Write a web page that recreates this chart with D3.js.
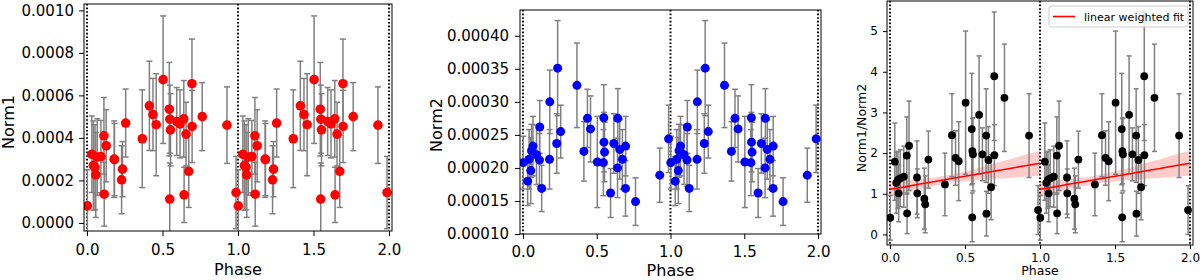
<!doctype html>
<html>
<head>
<meta charset="UTF-8">
<title>Norm1 / Norm2 vs phase</title>
<script src="https://cdn.jsdelivr.net/npm/d3@7"></script>
<style>
  body { margin: 0; background: #fff; }
  svg { font-family: "DejaVu Sans", sans-serif; }
  .tick line { stroke: #000; }
  .tick text { fill: #000; }
</style>
</head>
<body>
<svg id="chart" width="1200" height="280"></svg>
<script>
// phase of each observation (plotted twice: phase and phase + 1)
const phase = [0.002, 0.032, 0.042, 0.053, 0.058, 0.068, 0.092, 0.112, 0.114, 0.127,
  0.180, 0.182, 0.229, 0.235, 0.256, 0.366, 0.413, 0.437, 0.458, 0.504,
  0.545, 0.549, 0.553, 0.548, 0.594, 0.616, 0.641, 0.643, 0.656, 0.674,
  0.695, 0.696, 0.763, 0.927, 0.987];

const norm1 = [0.000080, 0.000323, 0.000270, 0.000262, 0.000226, 0.000310, 0.000312, 0.000410, 0.000135, 0.000363,
  0.000300, 0.000298, 0.000203, 0.000253, 0.000470, 0.000396, 0.000551, 0.000510, 0.000462, 0.000674,
  0.000535, 0.000488, 0.000438, 0.000112, 0.000477, 0.000466, 0.000490, 0.000132, 0.000418, 0.000243,
  0.000655, 0.000454, 0.000500, 0.000460, 0.000143];
const norm1Err = [0.00017, 0.00018, 0.00021, 0.00020, 0.00020, 0.00018, 0.00017, 0.00018, 0.00015, 0.00017,
  0.00018, 0.00017, 0.00016, 0.00013, 0.00016, 0.00023, 0.00021, 0.00017, 0.00024, 0.00030,
  0.00022, 0.00016, 0.00017, 0.00017, 0.00016, 0.00016, 0.00018, 0.00013, 0.00015, 0.00017,
  0.00021, 0.00017, 0.00016, 0.00018, 0.00017];

const norm2 = [0.000208, 0.000180, 0.000213, 0.000196, 0.000226, 0.000233, 0.000220, 0.000212, 0.000262, 0.000169,
  0.000213, 0.000300, 0.000237, 0.000351, 0.000255, 0.000325, 0.000225, 0.000275, 0.000259, 0.000209,
  0.000208, 0.000239, 0.000224, 0.000276, 0.000162, 0.000237, 0.000200, 0.000275, 0.000228, 0.000213,
  0.000169, 0.000233, 0.000149, 0.000189, 0.000244];
const norm2Err = [0.000040, 0.000037, 0.000045, 0.000050, 0.000040, 0.000045, 0.000045, 0.000040, 0.000040, 0.000035,
  0.000045, 0.000048, 0.000045, 0.000072, 0.000040, 0.000064, 0.000045, 0.000044, 0.000050, 0.000069,
  0.000050, 0.000045, 0.000045, 0.000050, 0.000037, 0.000045, 0.000045, 0.000045, 0.000045, 0.000045,
  0.000042, 0.000045, 0.000036, 0.000041, 0.000051];

const ratio = [0.41, 1.79, 1.27, 1.34, 1.01, 1.38, 1.42, 1.94, 0.52, 2.18,
  1.40, 1.01, 0.88, 0.74, 1.84, 1.23, 2.44, 1.88, 1.80, 3.24,
  2.59, 2.05, 1.97, 0.42, 2.94, 1.97, 2.43, 0.51, 1.83, 1.16,
  3.89, 1.95, 3.36, 2.43, 0.60];
const ratioErr = [0.55, 0.95, 0.75, 0.70, 0.70, 0.70, 0.75, 0.95, 0.50, 1.10,
  0.90, 0.60, 0.75, 0.70, 0.70, 0.77, 1.02, 0.67, 0.97, 1.76,
  1.37, 0.80, 0.90, 0.60, 1.45, 0.65, 1.15, 0.55, 0.82, 0.80,
  1.58, 0.75, 1.32, 1.03, 0.60];

// weighted linear fit and its confidence band (one phase cycle)
const fitPhase = [0, 0.1, 0.2, 0.3, 0.4, 0.5, 0.6, 0.7, 0.8, 0.9, 1.0];
const fitValue = [1.11, 1.17, 1.24, 1.30, 1.37, 1.43, 1.49, 1.56, 1.62, 1.69, 1.75];
const fitLow = [0.92, 1.02, 1.12, 1.20, 1.27, 1.31, 1.34, 1.37, 1.39, 1.42, 1.44];
const fitHigh = [1.30, 1.32, 1.36, 1.40, 1.47, 1.55, 1.64, 1.75, 1.85, 1.96, 2.06];

const xTicks = [0, 0.5, 1, 1.5, 2];
const foldLines = [0, 1, 2];

const svg = d3.select("#chart");

function drawPanel(o) {
  const g = svg.append("g");
  const x = d3.scaleLinear().domain([-0.02, 2.02]).range([o.left, o.right]);
  const y = d3.scaleLinear().domain(o.yDomain).range([o.bottom, o.top]);

  const clipId = "clip" + o.id;
  svg.append("clipPath").attr("id", clipId)
    .append("rect")
      .attr("x", o.left).attr("y", o.top)
      .attr("width", o.right - o.left).attr("height", o.bottom - o.top);

  const plot = g.append("g").attr("clip-path", `url(#${clipId})`);

  // fold markers
  plot.selectAll("line.fold")
    .data(foldLines)
    .enter().append("line")
      .attr("class", "fold")
      .attr("x1", d => x(d)).attr("x2", d => x(d))
      .attr("y1", o.top).attr("y2", o.bottom)
      .attr("stroke", "#000")
      .attr("stroke-width", 2)
      .attr("stroke-dasharray", "1.6,2");

  if (o.fit) o.fit(plot, x, y);

  const pts = [0, 1].flatMap(k => phase.map((p, i) => ({ x: p + k, v: o.values[i], e: o.errors[i] })));

  const bars = plot.selectAll("g.err").data(pts).enter().append("g").attr("class", "err")
    .attr("stroke", "#808080").attr("stroke-width", 1.5);
  bars.append("line")
    .attr("x1", d => x(d.x)).attr("x2", d => x(d.x))
    .attr("y1", d => y(d.v - d.e)).attr("y2", d => y(d.v + d.e));
  bars.append("line")
    .attr("x1", d => x(d.x) - o.cap).attr("x2", d => x(d.x) + o.cap)
    .attr("y1", d => y(d.v - d.e)).attr("y2", d => y(d.v - d.e));
  bars.append("line")
    .attr("x1", d => x(d.x) - o.cap).attr("x2", d => x(d.x) + o.cap)
    .attr("y1", d => y(d.v + d.e)).attr("y2", d => y(d.v + d.e));

  plot.selectAll("circle")
    .data(pts)
    .enter().append("circle")
      .attr("cx", d => x(d.x))
      .attr("cy", d => y(d.v))
      .attr("r", o.r)
      .attr("fill", o.color);

  if (o.fitLine) o.fitLine(plot, x, y);

  // axes
  const xa = g.append("g")
    .attr("transform", `translate(0,${o.bottom})`)
    .call(d3.axisBottom(x).tickValues(xTicks).tickFormat(d3.format(".1f"))
      .tickSize(o.tickLen).tickPadding(o.xPad));
  const ya = g.append("g")
    .attr("transform", `translate(${o.left},0)`)
    .call(d3.axisLeft(y).tickValues(o.yTicks).tickFormat(o.yFormat)
      .tickSize(o.tickLen).tickPadding(o.yPad));
  [xa, ya].forEach(a => {
    a.select(".domain").remove();
    a.selectAll("text").attr("font-size", o.tickFont).attr("font-family", "DejaVu Sans");
    a.selectAll(".tick line").attr("stroke-width", 1);
  });

  g.append("rect")
    .attr("x", o.left).attr("y", o.top)
    .attr("width", o.right - o.left).attr("height", o.bottom - o.top)
    .attr("fill", "none").attr("stroke", "#000").attr("stroke-width", 1);

  g.append("text")
    .attr("x", (o.left + o.right) / 2)
    .attr("y", o.xLabelY)
    .attr("text-anchor", "middle")
    .attr("font-size", o.labelFont)
    .text("Phase");

  g.append("text")
    .attr("transform", `translate(${o.yLabelX},${o.yLabelMid}) rotate(-90)`)
    .attr("text-anchor", "middle")
    .attr("font-size", o.labelFont)
    .text(o.yLabel);
}

drawPanel({
  id: 1, left: 84, right: 392, top: 4, bottom: 231,
  yDomain: [-0.000038, 0.00103],
  yTicks: [0, 0.0002, 0.0004, 0.0006, 0.0008, 0.0010], yFormat: d3.format(".4f"),
  values: norm1, errors: norm1Err, color: "#ff0000", r: 4.8, cap: 3,
  tickLen: 5, xPad: 8, yPad: 5, tickFont: 15, labelFont: 16,
  yLabel: "Norm1", yLabelX: 14, yLabelMid: 122, xLabelY: 275
});

drawPanel({
  id: 2, left: 520, right: 821, top: 10, bottom: 234,
  yDomain: [0.0001, 0.000439],
  yTicks: [0.0001, 0.00015, 0.0002, 0.00025, 0.0003, 0.00035, 0.0004], yFormat: d3.format(".5f"),
  values: norm2, errors: norm2Err, color: "#0000ff", r: 4.5, cap: 3,
  tickLen: 5, xPad: 7.5, yPad: 6, tickFont: 15, labelFont: 16,
  yLabel: "Norm2", yLabelX: 442, yLabelMid: 125, xLabelY: 276
});

drawPanel({
  id: 3, left: 887, right: 1193, top: 1, bottom: 245,
  yDomain: [-0.26, 5.74],
  yTicks: [0, 1, 2, 3, 4, 5], yFormat: d3.format("d"),
  values: ratio, errors: ratioErr, color: "#000", r: 3.9, cap: 2.5,
  tickLen: 4, xPad: 4.5, yPad: 5, tickFont: 12, labelFont: 12.5,
  yLabel: "Norm1/Norm2", yLabelX: 866, yLabelMid: 128, xLabelY: 275,
  fit: (plot, x, y) => {
    [0, 1].forEach(k => {
      const area = d3.area()
        .x(d => x(d.p + k)).y0(d => y(d.lo)).y1(d => y(d.hi));
      plot.append("path")
        .datum(fitPhase.map((p, i) => ({ p, lo: fitLow[i], hi: fitHigh[i] })))
        .attr("d", area)
        .attr("fill", "#ff0000").attr("fill-opacity", 0.2);
    });
  },
  fitLine: (plot, x, y) => {
    [0, 1].forEach(k => {
      const line = d3.line().x(d => x(d.p + k)).y(d => y(d.v));
      plot.append("path")
        .datum(fitPhase.map((p, i) => ({ p, v: fitValue[i] })))
        .attr("d", line)
        .attr("fill", "none").attr("stroke", "#ff0000").attr("stroke-width", 1.6);
    });
  }
});

// legend of the ratio panel
const leg = svg.append("g");
leg.append("rect")
  .attr("x", 1049).attr("y", 6).attr("width", 139).attr("height", 21).attr("rx", 2.5)
  .attr("fill", "#fff").attr("fill-opacity", 0.8)
  .attr("stroke", "#cccccc").attr("stroke-width", 1);
leg.append("line")
  .attr("x1", 1053).attr("x2", 1075).attr("y1", 16.5).attr("y2", 16.5)
  .attr("stroke", "#ff0000").attr("stroke-width", 1.6);
leg.append("text")
  .attr("x", 1084).attr("y", 20.5)
  .attr("font-size", 11)
  .text("linear weighted fit");
</script>
</body>
</html>
